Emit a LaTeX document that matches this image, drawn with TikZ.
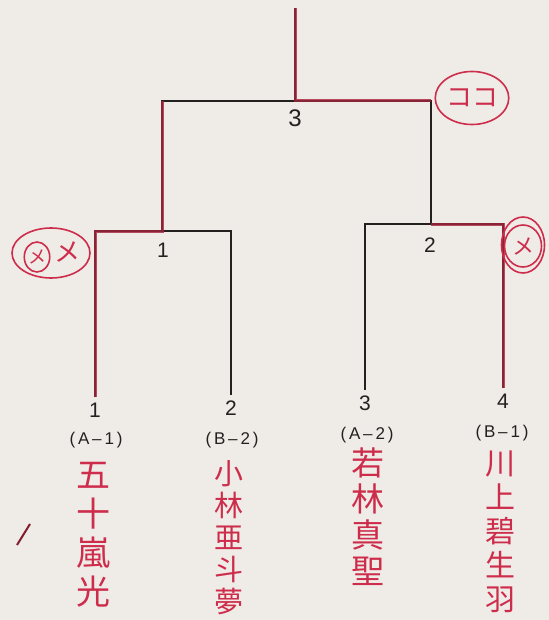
\documentclass[tikz,border=0pt]{standalone}
\usepackage{fontspec}
\setmainfont{Liberation Sans}
\newfontfamily\jpfont{Noto Sans CJK JP}
\usetikzlibrary{shapes.geometric}
\definecolor{paper}{RGB}{239,235,231}
\definecolor{pen}{RGB}{205,45,75}
\definecolor{darkpen}{RGB}{130,30,45}
\definecolor{ink}{RGB}{35,32,32}

\begin{document}
\begin{tikzpicture} [
    x = 0.5pt, y = -0.5pt,
    line/.style    = {ink,
                      line width=0.9pt},
    penline/.style = {pen!80!black,
                      line width=1.5pt,
                      opacity=0.8},
    num/.style     = {font=\fontsize{10.5}{12}\selectfont,
                      text=ink,
                      inner sep=2.5pt},
    tag/.style     = {font=\fontsize{8.5}{10}\selectfont,
                      text=ink,
                      inner sep=0pt},
    player/.style  = {text=pen,
                      align=center,
                      anchor=north,
                      inner sep=0pt},
    memo/.style    = {draw=pen,
                      ellipse,
                      text=pen,
                      line width=0.8pt,
                      inner sep=0pt,
                      font=\jpfont\fontsize{13}{13}\selectfont}
]
\fill[paper] (0,0) rectangle (549,620);
% players
\node (p1) [num] at (95,410)  {1};
\node (p2) [num] at (231,408) {2};
\node (p3) [num] at (365,403) {3};
\node (p4) [num] at (503,401) {4};
\node (t1) [tag] at (96,440)  {(\,A\,–\,1\,)};
\node (t2) [tag] at (232,440) {(\,B\,–\,2\,)};
\node (t3) [tag] at (367,435) {(\,A\,–\,2\,)};
\node (t4) [tag] at (502,433) {(\,B\,–\,1\,)};
\node (n1) [player, font=\jpfont\fontsize{17}{19.5}\selectfont]   at (93,462)  {五\\十\\嵐\\光};
\node (n2) [player, font=\jpfont\fontsize{14.5}{16}\selectfont]   at (229,460) {小\\林\\亜\\斗\\夢};
\node (n3) [player, font=\jpfont\fontsize{16.5}{18}\selectfont]   at (368,447) {若\\林\\真\\聖};
\node (n4) [player, font=\jpfont\fontsize{15}{17}\selectfont]     at (500,450) {川\\上\\碧\\生\\羽};
% matches
\node (m1) [num] at (163,250) {1};
\node (m2) [num] at (430,245) {2};
\node (m3) [num, font=\fontsize{12}{14}\selectfont] at (295,118) {3};
\coordinate (j1)  at (162,231);
\coordinate (j2)  at (431,224);
\coordinate (j3)  at (295,101);
\coordinate (top) at (295,8);
\draw[line] (p1.north) |- (j1) -| (p2.north);
\draw[line] (p3.north) |- (j2) -| (p4.north);
\draw[line] (j1) |- (j3) -| (j2);
\draw[line] (j3) -- (top);
% red pen
\draw[penline] (p1.north) |- (j1) -- (j1 |- j3);
\draw[penline] (top) -- (j3) -- (j2 |- j3);
\draw[penline] (j2) -| (p4.north);
\node (memo3) [memo, minimum width=34.5pt, minimum height=26.5pt] at (472,98) {ココ};
\node (memo1) [memo, minimum width=39pt, minimum height=25pt] at (51,253) {};
\node (men1)  [memo, minimum width=11.5pt, minimum height=15pt] at (37,257) {\fontsize{9}{9}\selectfont メ};
\node (me1)   [text=pen, inner sep=0pt, font=\jpfont\fontsize{13}{13}\selectfont] at (67,252) {メ};
\node (memo2) [memo, minimum width=21.5pt, minimum height=28pt] at (523,245) {};
\node (men2)  [memo, minimum width=18.5pt, minimum height=21pt] at (523,246) {\fontsize{11}{11}\selectfont メ};
\draw[darkpen, line width=1pt] (17,545) -- (30,524);
\end{tikzpicture}
\end{document}
